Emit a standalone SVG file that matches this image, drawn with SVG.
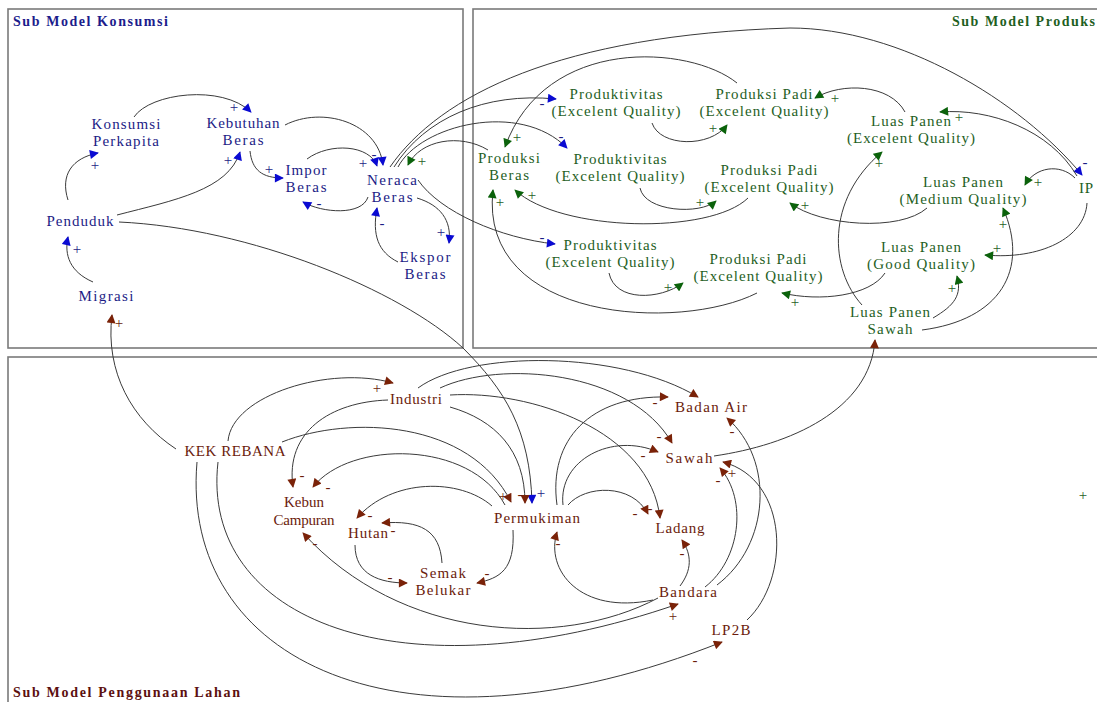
<svg xmlns="http://www.w3.org/2000/svg" width="1097" height="702" viewBox="0 0 1097 702">
<style>
text{font-family:"Liberation Serif","Times New Roman",serif;}
.n{font-size:15px;text-anchor:middle;}
.kb{fill:#1c1c86;}
.gr{fill:#1f5f1f;}
.br{fill:#6b1b0b;}
.t{font-size:14px;font-weight:bold;}
.s{font-size:15px;text-anchor:middle;}
.panel{fill:none;stroke:#7a7a7a;stroke-width:1.6;}
.c{fill:none;stroke:#3a3a3a;stroke-width:1;}
.cb{marker-end:url(#mb);}
.cg{marker-end:url(#mg);}
.cr{marker-end:url(#mr);}
</style>
<defs>
<marker id="mb" viewBox="0 0 10 10" refX="9" refY="5" markerWidth="10" markerHeight="9" markerUnits="userSpaceOnUse" orient="auto"><path d="M0,0 L10,5 L0,10 z" fill="#0a0ad2"/></marker>
<marker id="mg" viewBox="0 0 10 10" refX="9" refY="5" markerWidth="10" markerHeight="9" markerUnits="userSpaceOnUse" orient="auto"><path d="M0,0 L10,5 L0,10 z" fill="#0b620b"/></marker>
<marker id="mr" viewBox="0 0 10 10" refX="9" refY="5" markerWidth="10" markerHeight="9" markerUnits="userSpaceOnUse" orient="auto"><path d="M0,0 L10,5 L0,10 z" fill="#7a2208"/></marker>
</defs>
<rect width="1097" height="702" fill="#ffffff"/>
<g id="panels">
<rect class="panel" x="8" y="9" width="455" height="339"/>
<rect class="panel" x="473" y="9" width="640" height="339"/>
<rect class="panel" x="8" y="357" width="1100" height="360"/>
<text class="t" x="13" y="26" fill="#1c1c8c" textLength="155" lengthAdjust="spacing">Sub Model Konsumsi</text>
<text class="t" x="952" y="26" fill="#1f5f1f" textLength="143" lengthAdjust="spacing">Sub Model Produks</text>
<text class="t" x="13" y="697" fill="#5c1010" textLength="227" lengthAdjust="spacing">Sub Model Penggunaan Lahan</text>
</g>
<g id="connectors">
<path class="c cb" d="M134,117 C150,93 222,84 251,112"/>
<path class="c cb" d="M68,200 C60,175 72,158 98,153"/>
<path class="c cb" d="M117,215 C175,200 228,190 240,152"/>
<path class="c cb" d="M93,282 C70,272 64,255 68,237"/>
<path class="c cb" d="M250,151 C252,170 262,178 283,178"/>
<path class="c cb" d="M285,125 C322,106 378,122 383,165"/>
<path class="c cb" d="M307,159 C330,142 370,145 377,166"/>
<path class="c cb" d="M368,197 C362,216 322,213 303,202"/>
<path class="c cb" d="M398,262 C378,252 372,235 377,208"/>
<path class="c cb" d="M417,198 C440,205 452,220 449,243"/>
<path class="c cb" d="M119,222 C250,228 400,290 463,348 C505,390 530,430 532,503"/>
<path class="c cb" d="M390,167 C440,95 560,35 790,28 C900,28 1020,100 1082,175"/>
<path class="c cb" d="M394,167 C425,118 485,92 556,99"/>
<path class="c cb" d="M398,167 C420,125 520,100 567,148"/>
<path class="c cb" d="M418,180 C440,212 500,238 555,244"/>
<path class="c cg" d="M488,150 C460,133 420,140 408,165"/>
<path class="c cg" d="M737,83 C690,45 545,35 505,147"/>
<path class="c cg" d="M652,123 C660,147 710,148 727,125"/>
<path class="c cg" d="M905,112 C890,84 842,82 815,98"/>
<path class="c cg" d="M1077,176 C1050,130 990,108 940,112"/>
<path class="c cg" d="M862,305 C830,270 825,200 882,152"/>
<path class="c cg" d="M640,188 C645,212 700,215 716,201"/>
<path class="c cg" d="M748,198 C710,235 560,232 515,190"/>
<path class="c cg" d="M927,208 C900,232 820,226 790,203"/>
<path class="c cg" d="M1075,178 C1060,163 1035,167 1025,185"/>
<path class="c cg" d="M1087,203 C1085,238 1040,260 985,255"/>
<path class="c cg" d="M885,273 C870,296 820,302 782,293"/>
<path class="c cg" d="M933,318 C955,305 962,295 957,276"/>
<path class="c cg" d="M922,330 C1000,320 1030,270 1003,208"/>
<path class="c cg" d="M609,273 C615,302 660,300 683,283"/>
<path class="c cg" d="M757,293 C680,332 478,322 493,190"/>
<path class="c cr" d="M714,456 C790,445 870,410 875,340"/>
<path class="c cr" d="M176,449 C132,420 105,372 112,315"/>
<path class="c cr" d="M228,441 C232,395 330,365 393,383"/>
<path class="c cr" d="M282,442 C350,415 470,420 511,502"/>
<path class="c cr" d="M388,400 C330,402 285,432 293,487"/>
<path class="c cr" d="M505,505 C470,440 350,440 313,487"/>
<path class="c cr" d="M492,506 C460,478 392,478 357,518"/>
<path class="c cr" d="M450,407 C495,420 525,450 525,503"/>
<path class="c cr" d="M418,388 C470,350 620,350 698,397"/>
<path class="c cr" d="M440,388 C500,360 630,370 672,443"/>
<path class="c cr" d="M450,395 C530,390 650,430 660,518"/>
<path class="c cr" d="M557,505 C548,440 590,395 668,397"/>
<path class="c cr" d="M563,505 C558,460 612,432 658,452"/>
<path class="c cr" d="M568,505 C585,485 632,483 648,514"/>
<path class="c cr" d="M355,545 C355,575 380,583 407,583"/>
<path class="c cr" d="M442,563 C440,530 420,520 382,523"/>
<path class="c cr" d="M513,530 C515,570 500,578 477,583"/>
<path class="c cr" d="M653,600 C580,615 545,570 557,532"/>
<path class="c cr" d="M680,586 C692,570 692,555 682,540"/>
<path class="c cr" d="M705,587 C740,560 748,500 720,468"/>
<path class="c cr" d="M717,585 C770,545 775,460 727,418"/>
<path class="c cr" d="M747,620 C790,580 790,480 723,462"/>
<path class="c cr" d="M658,598 C560,650 400,640 303,533"/>
<path class="c cr" d="M218,462 C200,620 400,700 678,604"/>
<path class="c cr" d="M197,462 C180,660 400,770 722,642"/>
</g>
<g id="signs">
<g class="kb">
<text class="s" x="234" y="112">+</text>
<text class="s" x="95" y="170">+</text>
<text class="s" x="228" y="165">+</text>
<text class="s" x="77" y="254">+</text>
<text class="s" x="269" y="174">+</text>
<text class="s" x="374" y="159">-</text>
<text class="s" x="363" y="168">+</text>
<text class="s" x="319" y="208">-</text>
<text class="s" x="382" y="228">-</text>
<text class="s" x="441" y="237">+</text>
<text class="s" x="541" y="498">+</text>
<text class="s" x="1085" y="167">-</text>
<text class="s" x="542" y="108">-</text>
<text class="s" x="561" y="141">-</text>
<text class="s" x="542" y="242">-</text>
</g>
<g class="gr">
<text class="s" x="422" y="166">+</text>
<text class="s" x="517" y="142">+</text>
<text class="s" x="713" y="133">+</text>
<text class="s" x="835" y="103">+</text>
<text class="s" x="959" y="122">+</text>
<text class="s" x="879" y="168">+</text>
<text class="s" x="700" y="207">+</text>
<text class="s" x="532" y="200">+</text>
<text class="s" x="805" y="210">+</text>
<text class="s" x="1038" y="187">+</text>
<text class="s" x="997" y="253">+</text>
<text class="s" x="795" y="307">+</text>
<text class="s" x="952" y="293">+</text>
<text class="s" x="1003" y="229">+</text>
<text class="s" x="668" y="292">+</text>
<text class="s" x="500" y="207">+</text>
<text class="s" x="1083" y="500">+</text>
</g>
<g class="br">
<text class="s" x="119" y="328">+</text>
<text class="s" x="377" y="393">+</text>
<text class="s" x="503" y="501">+</text>
<text class="s" x="302" y="480">-</text>
<text class="s" x="328" y="492">-</text>
<text class="s" x="370" y="520">-</text>
<text class="s" x="520" y="499">-</text>
<text class="s" x="659" y="441">-</text>
<text class="s" x="650" y="513">-</text>
<text class="s" x="655" y="407">-</text>
<text class="s" x="643" y="460">-</text>
<text class="s" x="635" y="518">-</text>
<text class="s" x="390" y="582">-</text>
<text class="s" x="393" y="535">-</text>
<text class="s" x="487" y="578">-</text>
<text class="s" x="558" y="548">-</text>
<text class="s" x="682" y="558">-</text>
<text class="s" x="718" y="485">-</text>
<text class="s" x="732" y="436">-</text>
<text class="s" x="732" y="478">+</text>
<text class="s" x="315" y="548">-</text>
<text class="s" x="673" y="621">+</text>
<text class="s" x="695" y="665">-</text>
</g>
</g>
<g id="konsumsi-perkapita"><text class="n kb" x="126" y="129" textLength="69" lengthAdjust="spacing">Konsumsi</text><text class="n kb" x="126" y="146" textLength="66" lengthAdjust="spacing">Perkapita</text></g>
<g id="kebutuhan-beras"><text class="n kb" x="243" y="128" textLength="73" lengthAdjust="spacing">Kebutuhan</text><text class="n kb" x="243" y="145" textLength="41" lengthAdjust="spacing">Beras</text></g>
<g id="impor-beras"><text class="n kb" x="306" y="175" textLength="41" lengthAdjust="spacing">Impor</text><text class="n kb" x="306" y="192" textLength="41" lengthAdjust="spacing">Beras</text></g>
<g id="neraca-beras"><text class="n kb" x="392" y="185" textLength="50" lengthAdjust="spacing">Neraca</text><text class="n kb" x="392" y="202" textLength="41" lengthAdjust="spacing">Beras</text></g>
<g id="penduduk"><text class="n kb" x="80" y="226" textLength="67" lengthAdjust="spacing">Penduduk</text></g>
<g id="migrasi"><text class="n kb" x="106" y="301" textLength="55" lengthAdjust="spacing">Migrasi</text></g>
<g id="ekspor-beras"><text class="n kb" x="425" y="262" textLength="51" lengthAdjust="spacing">Ekspor</text><text class="n kb" x="425" y="279" textLength="41" lengthAdjust="spacing">Beras</text></g>
<g id="produktivitas-1"><text class="n gr" x="616" y="99" textLength="93" lengthAdjust="spacing">Produktivitas</text><text class="n gr" x="616" y="116" textLength="129" lengthAdjust="spacing">(Excelent  Quality)</text></g>
<g id="produksi-padi-1"><text class="n gr" x="764" y="99" textLength="97" lengthAdjust="spacing">Produksi  Padi</text><text class="n gr" x="764" y="116" textLength="129" lengthAdjust="spacing">(Excelent  Quality)</text></g>
<g id="produksi-beras"><text class="n gr" x="509" y="163" textLength="62" lengthAdjust="spacing">Produksi</text><text class="n gr" x="509" y="180" textLength="40" lengthAdjust="spacing">Beras</text></g>
<g id="produktivitas-2"><text class="n gr" x="620" y="164" textLength="93" lengthAdjust="spacing">Produktivitas</text><text class="n gr" x="620" y="181" textLength="129" lengthAdjust="spacing">(Excelent  Quality)</text></g>
<g id="produksi-padi-2"><text class="n gr" x="769" y="175" textLength="97" lengthAdjust="spacing">Produksi  Padi</text><text class="n gr" x="769" y="192" textLength="129" lengthAdjust="spacing">(Excelent  Quality)</text></g>
<g id="produktivitas-3"><text class="n gr" x="610" y="250" textLength="93" lengthAdjust="spacing">Produktivitas</text><text class="n gr" x="610" y="267" textLength="129" lengthAdjust="spacing">(Excelent  Quality)</text></g>
<g id="produksi-padi-3"><text class="n gr" x="758" y="264" textLength="97" lengthAdjust="spacing">Produksi  Padi</text><text class="n gr" x="758" y="281" textLength="129" lengthAdjust="spacing">(Excelent  Quality)</text></g>
<g id="luas-panen-excelent"><text class="n gr" x="911" y="126" textLength="80" lengthAdjust="spacing">Luas  Panen</text><text class="n gr" x="911" y="143" textLength="128" lengthAdjust="spacing">(Excelent  Quality)</text></g>
<g id="luas-panen-medium"><text class="n gr" x="963" y="187" textLength="80" lengthAdjust="spacing">Luas  Panen</text><text class="n gr" x="963" y="204" textLength="127" lengthAdjust="spacing">(Medium  Quality)</text></g>
<g id="ip"><text class="n gr" x="1086" y="193" textLength="14" lengthAdjust="spacing">IP</text></g>
<g id="luas-panen-good"><text class="n gr" x="921" y="252" textLength="80" lengthAdjust="spacing">Luas  Panen</text><text class="n gr" x="921" y="269" textLength="108" lengthAdjust="spacing">(Good  Quality)</text></g>
<g id="luas-panen-sawah"><text class="n gr" x="890" y="317" textLength="80" lengthAdjust="spacing">Luas  Panen</text><text class="n gr" x="890" y="334" textLength="45" lengthAdjust="spacing">Sawah</text></g>
<g id="kek-rebana"><text class="n br" x="235" y="456" textLength="101" lengthAdjust="spacing">KEK REBANA</text></g>
<g id="industri"><text class="n br" x="416" y="404" textLength="52" lengthAdjust="spacing">Industri</text></g>
<g id="badan-air"><text class="n br" x="711" y="412" textLength="72" lengthAdjust="spacing">Badan  Air</text></g>
<g id="sawah"><text class="n br" x="689" y="463" textLength="47" lengthAdjust="spacing">Sawah</text></g>
<g id="kebun-campuran"><text class="n br" x="304" y="507">Kebun</text><text class="n br" x="304" y="525" textLength="61" lengthAdjust="spacing">Campuran</text></g>
<g id="hutan"><text class="n br" x="368" y="538" textLength="40" lengthAdjust="spacing">Hutan</text></g>
<g id="permukiman"><text class="n br" x="537" y="523" textLength="86" lengthAdjust="spacing">Permukiman</text></g>
<g id="ladang"><text class="n br" x="680" y="533" textLength="49" lengthAdjust="spacing">Ladang</text></g>
<g id="semak-belukar"><text class="n br" x="443" y="578" textLength="46" lengthAdjust="spacing">Semak</text><text class="n br" x="443" y="595" textLength="55" lengthAdjust="spacing">Belukar</text></g>
<g id="bandara"><text class="n br" x="688" y="597" textLength="58" lengthAdjust="spacing">Bandara</text></g>
<g id="lp2b"><text class="n br" x="731" y="635" textLength="39" lengthAdjust="spacing">LP2B</text></g>
</svg>
